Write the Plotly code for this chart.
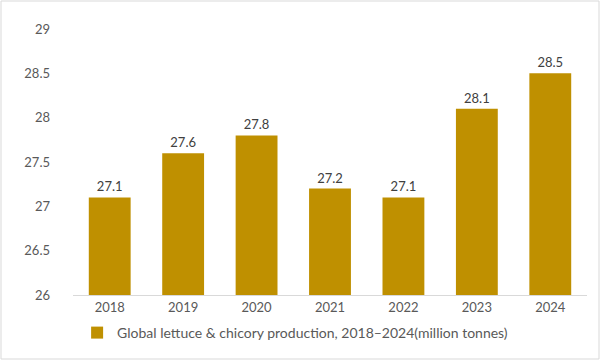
import plotly.graph_objects as go

years = ["2018", "2019", "2020", "2021", "2022", "2023", "2024"]
production = [27.1, 27.6, 27.8, 27.2, 27.1, 28.1, 28.5]
labels = ["27.1", "27.6", "27.8", "27.2", "27.1", "28.1", "28.5"]
y_ticks = [26, 26.5, 27, 27.5, 28, 28.5, 29]
y_tick_text = ["26", "26.5", "27", "27.5", "28", "28.5", "29"]
series_name = "Global lettuce & chicory production, 2018\u20132024(million tonnes)"

W, H = 600, 360
ml, mr, mt, mb = 73, 13, 29, 65
pw, ph = W - ml - mr, H - mt - mb

fig = go.Figure(go.Bar(
    x=years, y=production, name=series_name,
    marker=dict(color="#BF9000", line=dict(width=0)),
    text=labels, textposition="outside", cliponaxis=False,
    textfont=dict(size=13, color="#404040"),
))

fig.update_layout(
    width=W, height=H,
    margin=dict(l=ml, r=mr, t=mt, b=mb, autoexpand=False),
    plot_bgcolor="white", paper_bgcolor="white",
    font=dict(family="Lato, 'Open Sans', sans-serif", size=13, color="#595959"),
    bargap=0.43,
    showlegend=True,
    legend=dict(orientation="h", x=0.008, xanchor="left",
                yref="container", y=0.075, yanchor="middle",
                font=dict(size=14, color="#595959"), itemwidth=30),
    xaxis=dict(showgrid=False, showline=True, linecolor="#D9D9D9", linewidth=1,
               ticks="", tickfont=dict(size=13, color="#595959"), automargin=False),
    yaxis=dict(range=[26, 29], tickvals=y_ticks, ticktext=y_tick_text,
               showgrid=False, zeroline=False, showline=False, ticks="",
               ticklabelstandoff=22, tickfont=dict(size=13, color="#595959"),
               automargin=False),
    shapes=[dict(type="rect", xref="paper", yref="paper",
                 x0=-(ml - 1) / pw, x1=1 + (mr - 1) / pw,
                 y0=-(mb - 1) / ph, y1=1 + (mt - 1) / ph,
                 line=dict(color="#D9D9D9", width=1), layer="below")],
)

fig.write_html("out.html", config={"displayModeBar": False},
               post_script="document.body.style.margin='0';")
